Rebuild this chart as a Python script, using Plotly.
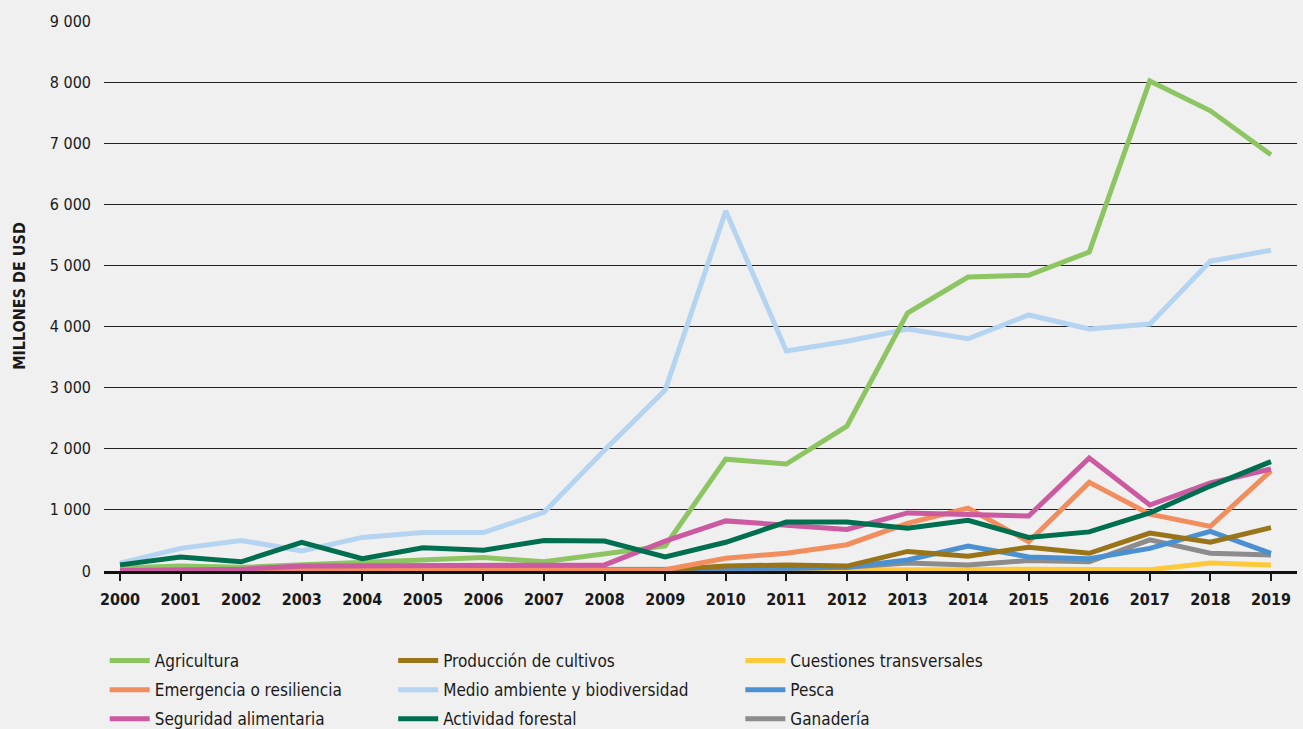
import plotly.graph_objects as go

years = list(range(2000, 2020))

agricultura = [50, 80, 60, 100, 120, 170, 220, 150, 290, 410, 1830, 1750, 2370, 4220, 4810, 4840, 5220, 8020, 7530, 6810]
emergencia = [0, 0, 0, 0, 0, 0, 0, 0, 0, 20, 210, 290, 430, 780, 1030, 480, 1450, 930, 730, 1640]
seguridad = [10, 20, 30, 80, 80, 100, 100, 100, 100, 490, 820, 750, 680, 950, 930, 900, 1850, 1080, 1440, 1670]
produccion = [10, 10, 10, 10, 10, 10, 10, 20, 20, 20, 80, 100, 80, 320, 240, 390, 290, 620, 470, 710]
medio_ambiente = [130, 370, 500, 330, 550, 630, 630, 960, 1980, 2960, 5890, 3600, 3760, 3960, 3800, 4190, 3960, 4040, 5070, 5250]
forestal = [100, 230, 150, 470, 200, 380, 340, 500, 490, 230, 470, 800, 800, 700, 830, 550, 640, 950, 1390, 1790]
cuestiones = [0, 0, 0, 0, 0, 0, 0, 0, 0, 0, 10, 10, 10, 20, 20, 30, 30, 20, 130, 100]
pesca = [0, 0, 0, 0, 0, 0, 0, 0, 0, 10, 40, 50, 60, 180, 410, 230, 200, 370, 650, 290]
ganaderia = [10, 10, 10, 10, 10, 20, 20, 20, 20, 20, 30, 40, 60, 130, 100, 170, 150, 510, 290, 260]

y_tickvals = [0, 1000, 2000, 3000, 4000, 5000, 6000, 7000, 8000, 9000]
y_ticktext = ["0", "1 000", "2 000", "3 000", "4 000", "5 000", "6 000", "7 000", "8 000", "9 000"]

FONT = "Liberation Sans Narrow, DejaVu Sans Condensed, Roboto, sans-serif"

series = [
    ("Medio ambiente y biodiversidad", medio_ambiente, "#b5d4f1", "legend2"),
    ("Cuestiones transversales", cuestiones, "#ffc93c", "legend3"),
    ("Ganadería", ganaderia, "#8c8c8c", "legend3"),
    ("Pesca", pesca, "#4b91d2", "legend3"),
    ("Producción de cultivos", produccion, "#9a7419", "legend2"),
    ("Emergencia o resiliencia", emergencia, "#f28d5d", "legend"),
    ("Agricultura", agricultura, "#8dc563", "legend"),
    ("Seguridad alimentaria", seguridad, "#cc5aa0", "legend"),
    ("Actividad forestal", forestal, "#006f4f", "legend2"),
]
legend_rank = {
    "Agricultura": 1, "Emergencia o resiliencia": 2, "Seguridad alimentaria": 3,
    "Producción de cultivos": 1, "Medio ambiente y biodiversidad": 2, "Actividad forestal": 3,
    "Cuestiones transversales": 1, "Pesca": 2, "Ganadería": 3,
}

fig = go.Figure()
for name, vals, color, leg in series:
    fig.add_trace(go.Scatter(
        x=years, y=vals, name=name, mode="lines",
        line=dict(color=color, width=5),
        legend=leg, legendgroup=name, legendrank=legend_rank[name],
    ))

leg_common = dict(
    orientation="v", yanchor="top", y=-0.131, xanchor="left",
    font=dict(family=FONT, size=17, color="#1a1a1a"),
    bgcolor="rgba(0,0,0,0)", tracegroupgap=4, itemwidth=40,
)

fig.update_layout(
    width=1303, height=729,
    paper_bgcolor="#f0f0f0", plot_bgcolor="#f0f0f0",
    margin=dict(l=104, r=6, t=21, b=158, autoexpand=False),
    font=dict(family=FONT, color="#1a1a1a"),
    showlegend=True,
    legend=dict(x=0.0006, **leg_common),
    legend2=dict(x=0.2424, **leg_common),
    legend3=dict(x=0.5334, **leg_common),
    xaxis=dict(
        range=[1999.736, 2019.43], tickmode="array", tickvals=years,
        ticktext=[f"<b>{y}</b>" for y in years],
        tickfont=dict(family=FONT, size=16, color="#1a1a1a"),
        ticks="outside", ticklen=7, tickwidth=1.5, tickcolor="#1a1a1a",
        ticklabelstandoff=5,
        showgrid=False, showline=True, linecolor="#111", linewidth=3,
        zeroline=False, layer="below traces",
    ),
    yaxis=dict(
        range=[0, 9000], tickmode="array", tickvals=y_tickvals, ticktext=y_ticktext,
        tickfont=dict(family=FONT, size=16, color="#1a1a1a"),
        showgrid=True, gridcolor="#222", gridwidth=1,
        zeroline=False, showline=False, ticks="", ticklabelstandoff=12,
        title=dict(text="<b>MILLONES DE USD</b>", font=dict(family=FONT, size=16, color="#1a1a1a"), standoff=20),
    ),
)

fig.write_html(
    "out.html",
    config={"displayModeBar": False},
    post_script="document.body.style.margin='0';document.body.style.overflow='hidden';document.body.style.background='#f0f0f0';",
)
